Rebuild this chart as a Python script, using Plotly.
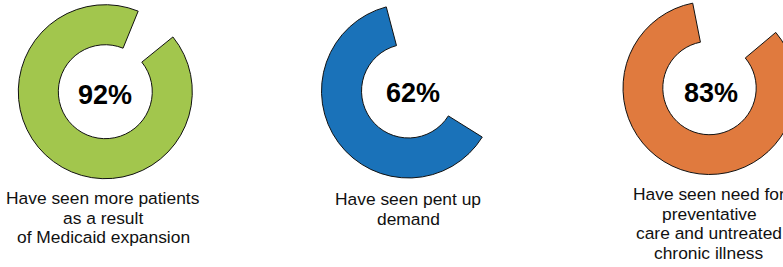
import plotly.graph_objects as go

# ---- data ----
values = [92, 62, 83]
pct_labels = ["92%", "62%", "83%"]
captions = [
    ["Have seen more patients", "as a result", "of Medicaid expansion"],
    ["Have seen pent up", "demand"],
    ["Have seen need for", "preventative", "care and untreated", "chronic illness"],
]

# ---- styles / layout ----
W, H = 800, 267          # figure is a bit wider than the 783px window; the right edge is cropped as in the reference
colors = ["#A2C64D", "#1A72B9", "#E07A3E"]
rotations = [51, 122, 50]
centers = [(105.3, 91.7), (408.5, 91.0), (709.5, 88.0)]
radii = [87, 87, 86.5]
pct_pos = [(104.5, 94.5), (412.5, 93.3), (711.0, 93.3)]
caption_x = [103, 408, 709]
caption_first_baseline = [204, 205, 200]
line_gap = 19.7
FONT = "Liberation Sans, Arial, sans-serif"

fig = go.Figure()
annotations = []
for i, v in enumerate(values):
    cx, cy = centers[i]
    r = radii[i]
    x0 = max(0.0, (cx - r) / W)
    x1 = min(1.0, (cx + r) / W)
    y0 = max(0.0, 1 - (cy + r) / H)
    y1 = min(1.0, 1 - (cy - r) / H)
    fig.add_trace(go.Pie(
        values=[v, 100 - v],
        sort=False,
        direction="clockwise",
        rotation=rotations[i],
        hole=0.54,
        marker=dict(colors=[colors[i], "rgba(0,0,0,0)"],
                    line=dict(color=["#111111", "rgba(0,0,0,0)"], width=[1, 0])),
        textinfo="none",
        hoverinfo="skip",
        showlegend=False,
        domain=dict(x=[x0, x1], y=[y0, y1]),
    ))
    px, py = pct_pos[i]
    annotations.append(dict(
        text="<b>%s</b>" % pct_labels[i], x=px / W, y=1 - py / H,
        xref="paper", yref="paper", xanchor="center", yanchor="middle",
        showarrow=False, font=dict(family=FONT, size=27, color="#000000"),
    ))
    for j, line in enumerate(captions[i]):
        base = caption_first_baseline[i] + j * line_gap
        annotations.append(dict(
            text=line, x=caption_x[i] / W, y=1 - (base - 6) / H,
            xref="paper", yref="paper", xanchor="center", yanchor="middle",
            showarrow=False, font=dict(family=FONT, size=17.4, color="#111111"),
        ))

fig.update_layout(
    width=W, height=H,
    margin=dict(l=0, r=0, t=0, b=0),
    paper_bgcolor="white", plot_bgcolor="white",
    annotations=annotations,
)

page_css = ("document.documentElement.style.overflow='hidden';"
            "document.body.style.overflow='hidden';"
            "document.body.style.margin='0px';")
fig.write_html("out.html", post_script=page_css, config={"displayModeBar": False})
